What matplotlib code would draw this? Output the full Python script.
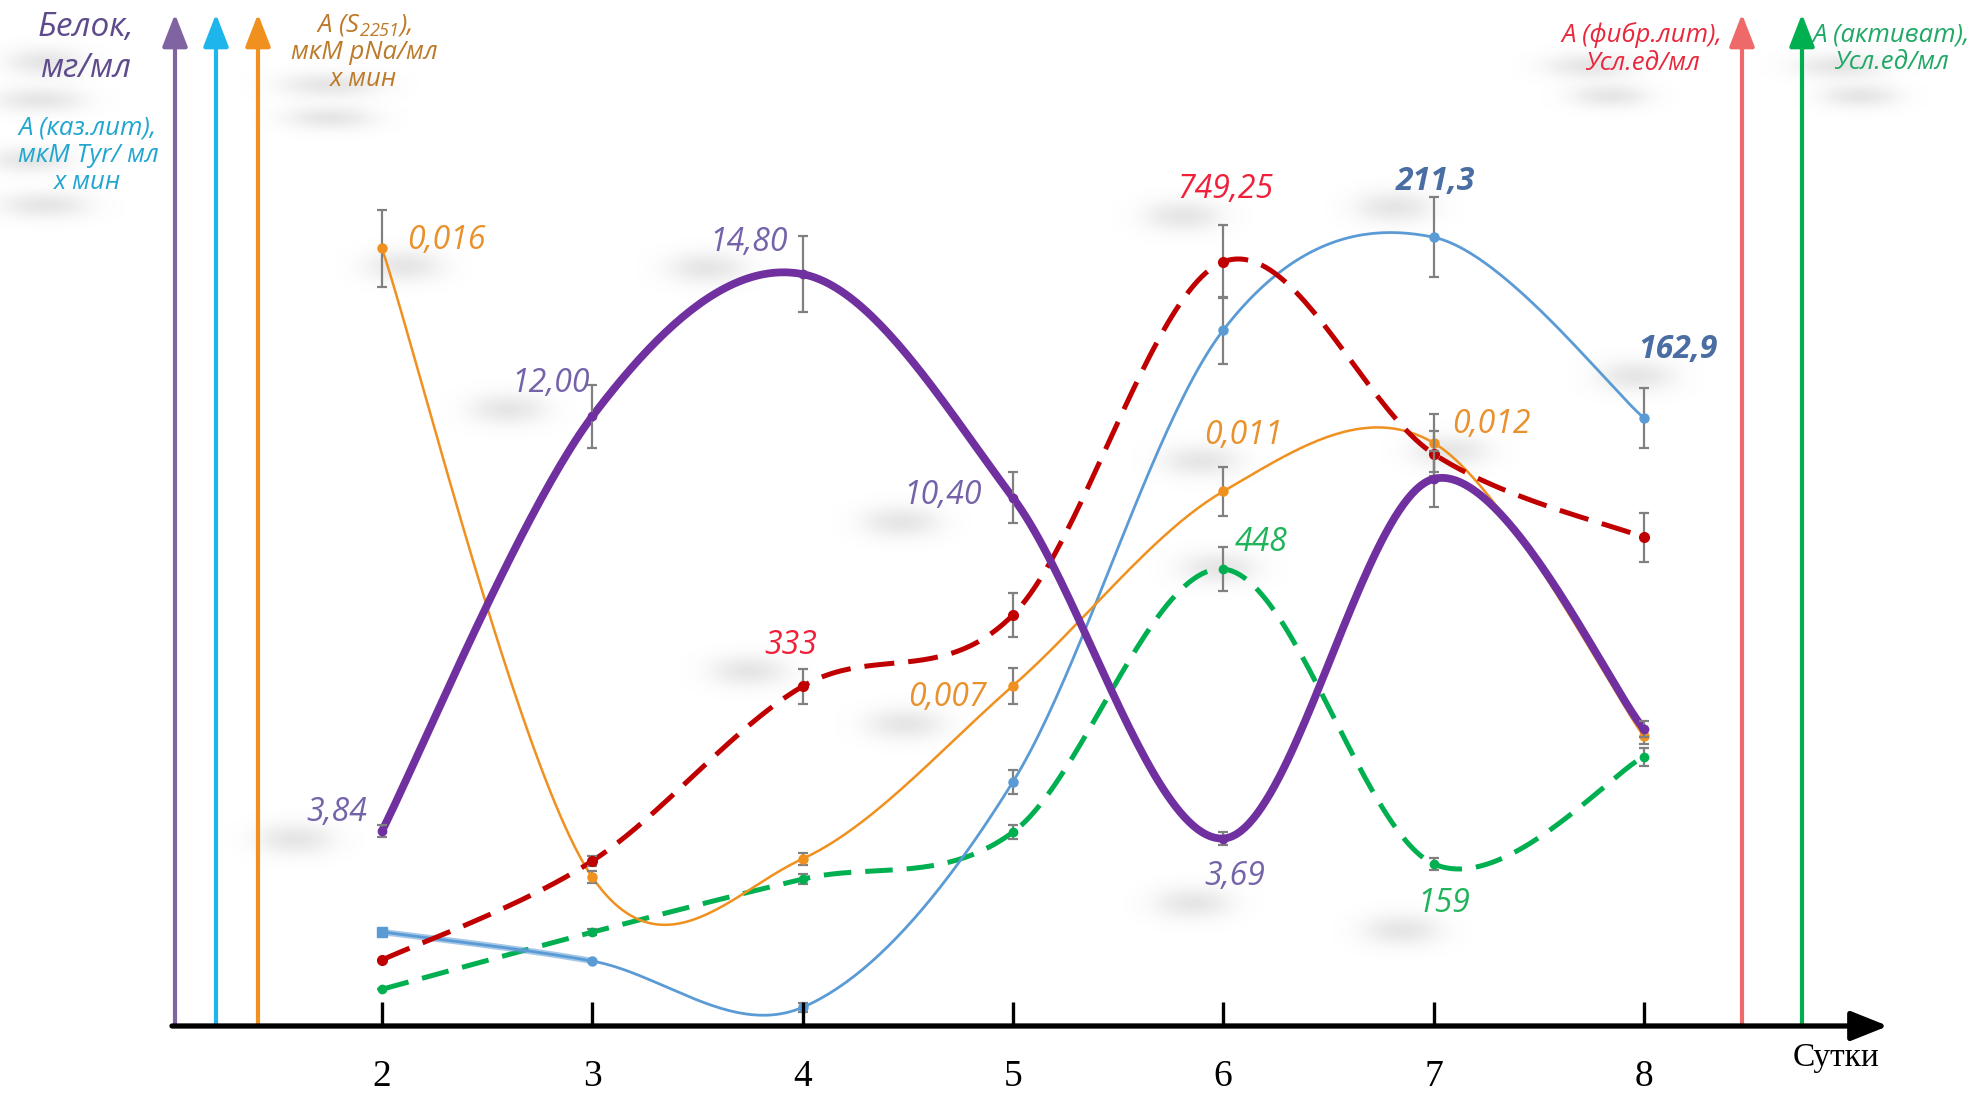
import numpy as np
import matplotlib
matplotlib.use("Agg")
import matplotlib.pyplot as plt

# ---------------- data ----------------
days = [2, 3, 4, 5, 6, 7, 8]
day_labels = ["2", "3", "4", "5", "6", "7", "8"]

protein = [3.84, 12.00, 14.80, 10.40, 3.69, 10.77, 5.85]          # мг/мл
protein_err = [0.12, 0.62, 0.75, 0.5, 0.12, 0.55, 0.16]

caseinolytic = [25.2, 17.4, 5.0, 65.4, 186.4, 211.3, 162.9]       # мкМ Tyr/мл х мин
caseinolytic_err = [0.0, 0.0, 1.2, 3.3, 9.0, 10.7, 8.0]

s2251 = [0.016, 0.00306, 0.00344, 0.007, 0.011, 0.012, 0.00596]   # мкМ pNa/мл х мин
s2251_err = [0.0008, 0.00012, 0.00012, 0.00037, 0.0005, 0.0006, 0.00016]

fibrinolytic = [64.7, 161.8, 333, 403, 749.25, 561, 479]          # усл.ед/мл
fibrinolytic_err = [0, 5, 17, 22, 36, 22, 24]

activator = [36, 92, 144, 190, 448, 159, 264]                     # усл.ед/мл
activator_err = [0, 3, 5, 7, 22, 6, 9]

# value labels: (day index, text, dx, dy) offsets in pixels
protein_labels = [(0, "3,84", -45, 18), (1, "12,00", -42, 33), (2, "14,80", -54, 32),
                  (3, "10,40", -70, 2), (4, "3,69", 12, -38)]
s2251_labels = [(0, "0,016", 64, 8), (3, "0,007", -66, -12), (4, "0,011", 20, 56),
                (5, "0,012", 58, 18)]
fibrin_labels = [(2, "333", -12, 41), (4, "749,25", 2, 72)]
activator_labels = [(4, "448", 38, 27), (5, "159", 10, -40)]
casein_labels = [(5, "211,3", 2, 56), (6, "162,9", 34, 68)]

# ---------------- style ----------------
W, H = 1977, 1096
BASE = 1026           # pixel row of the time axis
X2, DX = 382, 210.3   # pixel column of day 2 and spacing of one day

plt.rcParams["font.family"] = ["Open Sans", "DejaVu Sans"]
plt.rcParams["mathtext.fontset"] = "custom"
plt.rcParams["mathtext.rm"] = "Open Sans:italic"
plt.rcParams["mathtext.it"] = "Open Sans:italic"

C_PURPLE = "#7030a0"
C_PURPLE_T = "#7563a9"
C_BLUE = "#5b9bd5"
C_BLUE_T = "#4a6ea3"
C_ORANGE = "#f0901e"
C_ORANGE_T = "#e8912d"
C_RED = "#c00000"
C_RED_T = "#f0203a"
C_GREEN = "#00b050"
C_GREEN_T = "#1fb45a"
C_ERR = "#808080"

fig = plt.figure(figsize=(W / 100, H / 100), dpi=100)

# pixel overlay for decorations
ov = fig.add_axes([0, 0, 1, 1], zorder=0)
ov.set_axis_off()
ov.patch.set_alpha(0)

xlo = 2 - X2 / DX
xhi = 2 + (W - X2) / DX


def series_axes(px_per_unit, z):
    a = fig.add_axes([0, 0, 1, 1], zorder=z)
    a.set_axis_off()
    a.patch.set_alpha(0)
    a.set_xlim(xlo, xhi)
    a.set_ylim(-(H - BASE) / px_per_unit, BASE / px_per_unit)
    return a


def smooth(x, y, n=50):
    P = np.column_stack([np.asarray(x, float), np.asarray(y, float)])
    E = np.vstack([P[0], P, P[-1]])
    t = np.linspace(0, 1, n)[:, None]
    out = []
    for i in range(len(P) - 1):
        p0, p1, p2, p3 = E[i], E[i + 1], E[i + 2], E[i + 3]
        c1 = p1 + (p2 - p0) / 6
        c2 = p2 - (p3 - p1) / 6
        seg = (1 - t) ** 3 * p1 + 3 * (1 - t) ** 2 * t * c1 + 3 * (1 - t) * t ** 2 * c2 + t ** 3 * p2
        out.append(seg if i == 0 else seg[1:])
    return np.vstack(out)


def soft_blob(cx, cy, hw, hh, peak=0.26, gray=0.6):
    nx, ny = 90, 60
    u = np.linspace(-1, 1, nx)
    v = np.linspace(-1, 1, ny)
    su = 1 / (1 + np.exp((np.abs(u) - 0.45) / 0.15))
    sv = np.exp(-(v / 0.42) ** 2)
    img = np.zeros((ny, nx, 4))
    img[..., :3] = gray
    img[..., 3] = peak * sv[:, None] * su[None, :]
    ov.imshow(img, extent=(cx - hw, cx + hw, cy + hh, cy - hh), interpolation="bilinear",
              aspect="auto", zorder=0)


ax_prot = series_axes(50.8, 6)
ax_cas = series_axes(3.733, 3)
ax_s = series_axes(48600, 4)
ax_fib = series_axes(1.02, 5)
ax_act = series_axes(1.02, 2)


def draw_series(ax, y, err, color, lw, dashes=None, marker="o", ms=7):
    c = smooth(days, y)
    line, = ax.plot(c[:, 0], c[:, 1], color=color, lw=lw, solid_capstyle="round",
                    dash_capstyle="butt")
    if dashes is not None:
        line.set_dashes(dashes)
    ax.errorbar(days, y, yerr=err, fmt="none", ecolor=C_ERR, elinewidth=1.6, capsize=3.8,
                capthick=1.6, zorder=4)
    ax.plot(days, y, ls="none", marker=marker, ms=ms, color=color, zorder=5)
    return c


def put_labels(ax, y, labels, color, size=23, weight="normal"):
    for i, txt, dx, dy in labels:
        ax.annotate(txt, (days[i], y[i]), xytext=(dx, dy), textcoords="offset pixels",
                    ha="center", va="center", color=color, fontsize=size,
                    fontstyle="italic", fontweight=weight, zorder=10)
        px, py = ax.transData.transform((days[i], y[i]))
        cx, cy = px + dx, H - (py + dy)
        soft_blob(cx - 42, cy + 26, 70, 38)


# activator (green dashed)
draw_series(ax_act, activator, activator_err, C_GREEN, 3.6, dashes=(5.5, 2.8), ms=6)
put_labels(ax_act, activator, activator_labels, C_GREEN_T)

# caseinolytic (blue)
cb = draw_series(ax_cas, caseinolytic, caseinolytic_err, C_BLUE, 2.0, ms=6.5)
first = cb[:50]
ax_cas.plot(first[:, 0], first[:, 1], color=C_BLUE, lw=4.5, alpha=0.55, solid_capstyle="round")
ax_cas.plot(days[:1], caseinolytic[:1], ls="none", marker="s", ms=6.5, color=C_BLUE, zorder=6)
put_labels(ax_cas, caseinolytic, casein_labels, C_BLUE_T, weight="bold")

# S2251 (orange)
draw_series(ax_s, s2251, s2251_err, C_ORANGE, 1.8, ms=6.5)
put_labels(ax_s, s2251, s2251_labels, C_ORANGE_T)

# fibrinolytic (red dashed)
draw_series(ax_fib, fibrinolytic, fibrinolytic_err, C_RED, 3.6, dashes=(6, 2.8), ms=7)
put_labels(ax_fib, fibrinolytic, fibrin_labels, C_RED_T)

# protein (purple thick)
draw_series(ax_prot, protein, protein_err, C_PURPLE, 5.6, ms=6)
put_labels(ax_prot, protein, protein_labels, C_PURPLE_T)

# ---------------- axes drawn as arrows ----------------
arrow_kw = dict(arrowstyle="-|>,head_length=0.9,head_width=0.35", shrinkA=0, shrinkB=0)
for xpx, col in [(175, "#8064a2"), (216, "#1eb4ec"), (258, "#f0901e"),
                 (1742, "#ee6a6a"), (1802, "#00b050")]:
    ov.annotate("", xy=(xpx, 14), xytext=(xpx, BASE),
                arrowprops=dict(color=col, lw=3.0, mutation_scale=22, **arrow_kw), zorder=1)

ov.annotate("", xy=(1888, BASE), xytext=(172, BASE),
            arrowprops=dict(color="black", lw=3.8, mutation_scale=28,
                            arrowstyle="-|>,head_length=0.8,head_width=0.32",
                            shrinkA=0, shrinkB=0), zorder=7)

# day ticks and labels on the time axis
tick_ax = fig.add_axes([0, 0, 1, 1], zorder=7)
tick_ax.set_axis_off()
tick_ax.patch.set_alpha(0)
tick_ax.set_xlim(xlo, xhi)
tick_ax.set_ylim(H, 0)
tick_ax.vlines(days, BASE - 24, BASE, color="black", lw=2.4)
for d, lab in zip(days, day_labels):
    tick_ax.text(d, 1077, lab, ha="center", va="center", fontsize=27,
                 family=["Liberation Serif", "DejaVu Serif"], color="black")
tick_ax.text(1836 / DX - X2 / DX + 2, 1058, "Сутки", ha="center", va="center", fontsize=24,
             family=["Liberation Serif", "DejaVu Serif"], color="black")

# ---------------- axis titles ----------------
titles = [
    ("Белок,\nмг/мл", 86, 48, 24, "#5f4b8b", 1.3),
    ("A (каз.лит),\nмкМ Tyr/ мл\nх мин", 88, 155, 18.5, "#21a6cf", 1.12),
    ("A (S$_{2251}$),\nмкМ pNa/мл\nх мин", 364, 52, 18.5, "#bd7a2a", 1.1),
    ("A (фибр.лит),\nУсл.ед/мл", 1642, 49, 18.5, "#e8283c", 1.12),
    ("A (активат),\nУсл.ед/мл", 1891, 49, 18.5, "#20a865", 1.12),
]
for txt, x, y, fs, col, lsp in titles:
    ov.text(x, y, txt, ha="center", va="center", fontsize=fs, color=col,
            fontstyle="italic", linespacing=lsp, zorder=8)

# soft shadows under the titles
for cx, cy, hw, hh in [(45, 62, 70, 34), (40, 100, 80, 30), (30, 160, 70, 30), (45, 205, 80, 32),
                       (330, 85, 90, 30), (330, 118, 80, 28),
                       (1590, 66, 80, 30), (1610, 96, 70, 28), (1840, 66, 80, 30),
                       (1860, 96, 70, 28)]:
    soft_blob(cx, cy, hw, hh)

ov.set_xlim(0, W)
ov.set_ylim(H, 0)

fig.savefig("out.png", dpi=100, facecolor="white")
